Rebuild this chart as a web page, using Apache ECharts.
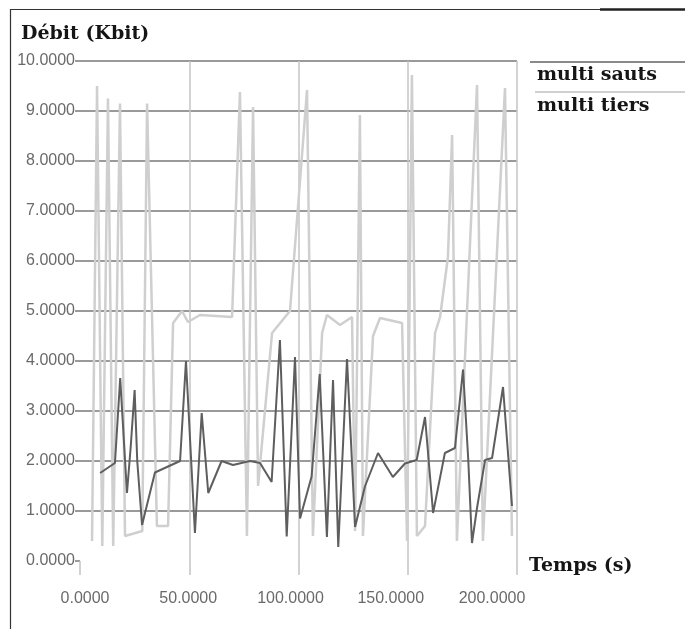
<!DOCTYPE html>
<html><head><meta charset="utf-8">
<script src="https://cdn.jsdelivr.net/npm/echarts@6/dist/echarts.min.js"></script>
<style>html,body{margin:0;padding:0;background:#fff}#c{width:685px;height:629px}</style>
</head><body><div id="c"></div>
<script>
// ---- data ----
const seriesNames = ['multi sauts', 'multi tiers'];
const xTicks = [0, 50, 100, 150, 200];
const yTicks = [0, 1, 2, 3, 4, 5, 6, 7, 8, 9, 10];
const titleText = 'Débit (Kbit)';
const xAxisName = 'Temps (s)';

// multi sauts (dark series)
const sautsT = [9.2, 16, 18.4, 20.5, 21.5, 23.2, 25.0, 26.2, 28.4, 34.3, 45.8, 48.5, 52.6, 55.7, 58.7, 64.8, 70, 77.8, 82.4, 87.7, 91.5, 94.6, 98.4, 100.7, 106, 109.7, 113, 115.8, 118.2, 122.2, 125.9, 130.4, 136.4, 143.2, 148.7, 154.1, 157.9, 161.6, 167, 171.6, 175.3, 177.7, 179.4, 181.7, 185.4, 188.6, 193.6, 197.7];
const sautsV = [1.76, 1.96, 3.66, 2.1, 1.36, 2.28, 3.42, 2.0, 0.72, 1.77, 2.0, 4.0, 0.56, 2.96, 1.36, 2.0, 1.92, 2.0, 1.96, 1.58, 4.42, 0.49, 4.08, 0.85, 1.69, 3.74, 0.48, 3.62, 0.28, 4.04, 0.68, 1.49, 2.16, 1.68, 1.95, 2.02, 2.88, 0.96, 2.16, 2.26, 3.83, 2.02, 0.36, 1.06, 2.02, 2.06, 3.48, 1.1];

// multi tiers (light series)
const tiersT = [5.5, 7.8, 10.2, 12.8, 15.2, 18.3, 20.6, 28.5, 30.7, 35.2, 40.3, 42.6, 46.7, 49.4, 54.9, 69.6, 73.2, 76.4, 79.2, 81.5, 87.9, 96.1, 103.9, 106.6, 110.8, 113, 119, 124.5, 125.9, 128.1, 129.5, 134.1, 137.3, 147.4, 149.7, 151.9, 154.2, 157.9, 162.5, 164.8, 168.4, 170.3, 172.5, 181.7, 184.4, 194.5, 197.7];
const tiersV = [0.4, 9.5, 0.3, 9.25, 0.3, 9.15, 0.5, 0.6, 9.15, 0.7, 0.7, 4.76, 5.0, 4.78, 4.92, 4.88, 9.38, 0.5, 9.08, 1.5, 4.56, 5.0, 9.42, 0.5, 4.56, 4.92, 4.72, 4.88, 0.6, 8.92, 0.5, 4.5, 4.86, 4.76, 0.4, 9.72, 0.5, 0.7, 4.56, 4.88, 6.08, 8.52, 0.4, 9.52, 0.4, 9.46, 0.5];

// ---- build ----
const zip = (t, v) => t.map((x, i) => [x, v[i]]);
const sans = '"Liberation Sans",Arial,sans-serif';
const serif = '"DejaVu Serif","Liberation Serif",serif';
// per-label horizontal nudges of the x tick labels (as in the scanned original)
const xLabelShift = [5, -1, -8, -17, -25];
const rich = {};
xTicks.forEach((t, i) => {
  const d = xLabelShift[i];
  rich['l' + i] = {
    fontFamily: sans, fontSize: 16, color: '#6a6a6a',
    padding: d >= 0 ? [0, 0, 0, 2 * d] : [0, -2 * d, 0, 0]
  };
});
const ySplitColors = yTicks.map(v => v === 0 ? 'rgba(0,0,0,0)' : '#9a9a9a');
const xSplitColors = xTicks.map(v => v === 0 ? 'rgba(0,0,0,0)' : '#c4c4c4');

const chart = echarts.init(document.getElementById('c'), null, {renderer: 'canvas'});
chart.setOption({
  animation: false,
  backgroundColor: '#fff',
  title: {
    text: titleText, left: 16, top: 20,
    textStyle: {fontFamily: serif, fontWeight: 'bold', fontSize: 19, color: '#151515'}
  },
  legend: {
    data: seriesNames, orient: 'vertical', left: 527, top: 61,
    itemWidth: 0, itemHeight: 0, itemGap: 12, icon: 'rect',
    textStyle: {fontFamily: serif, fontWeight: 'bold', fontSize: 19, color: '#151515'}
  },
  grid: {left: 80, right: 168, top: 61, bottom: 68},
  xAxis: {
    type: 'value', min: 0, max: 200, interval: 50,
    name: xAxisName, nameLocation: 'end', nameGap: 12,
    nameTextStyle: {fontFamily: serif, fontWeight: 'bold', fontSize: 19, color: '#151515', verticalAlign: 'top', lineHeight: 10},
    axisLine: {show: false},
    axisTick: {show: true, length: 14, lineStyle: {color: '#c4c4c4', width: 1.5}},
    axisLabel: {
      margin: 30,
      formatter: (v) => { const i = xTicks.indexOf(v); return '{l' + i + '|' + v.toFixed(4) + '}'; },
      rich: rich
    },
    splitLine: {show: true, lineStyle: {color: xSplitColors, width: 1.5}}
  },
  yAxis: {
    type: 'value', min: 0, max: 10, interval: 1,
    axisLine: {show: false},
    axisTick: {show: true, length: 5, lineStyle: {color: '#9a9a9a', width: 2}},
    axisLabel: {
      margin: 5, color: '#6a6a6a', fontSize: 16, fontFamily: sans,
      formatter: (v) => v.toFixed(4)
    },
    splitLine: {show: true, lineStyle: {color: ySplitColors, width: 2}}
  },
  series: [
    {
      name: seriesNames[1], type: 'line', data: zip(tiersT, tiersV),
      showSymbol: false, symbol: 'none', z: 2,
      lineStyle: {color: '#cfcfcf', width: 2.5}, itemStyle: {color: '#cfcfcf'}
    },
    {
      name: seriesNames[0], type: 'line', data: zip(sautsT, sautsV),
      showSymbol: false, symbol: 'none', z: 3,
      lineStyle: {color: '#5e5e5e', width: 2}, itemStyle: {color: '#5e5e5e'}
    }
  ],
  graphic: [
    {type: 'rect', shape: {x: 10.5, y: 9.5, width: 700, height: 700}, style: {fill: 'none', stroke: '#333', lineWidth: 1.2}, silent: true},
    {type: 'line', shape: {x1: 600, y1: 9.5, x2: 685, y2: 9.5}, style: {stroke: '#222', lineWidth: 2.5}, silent: true},
    {type: 'line', shape: {x1: 530, y1: 62, x2: 685, y2: 62}, style: {stroke: '#8a8a8a', lineWidth: 2}, silent: true},
    {type: 'line', shape: {x1: 535, y1: 92, x2: 685, y2: 92}, style: {stroke: '#d0d0d0', lineWidth: 2}, silent: true}
  ]
});
</script>
</body></html>
